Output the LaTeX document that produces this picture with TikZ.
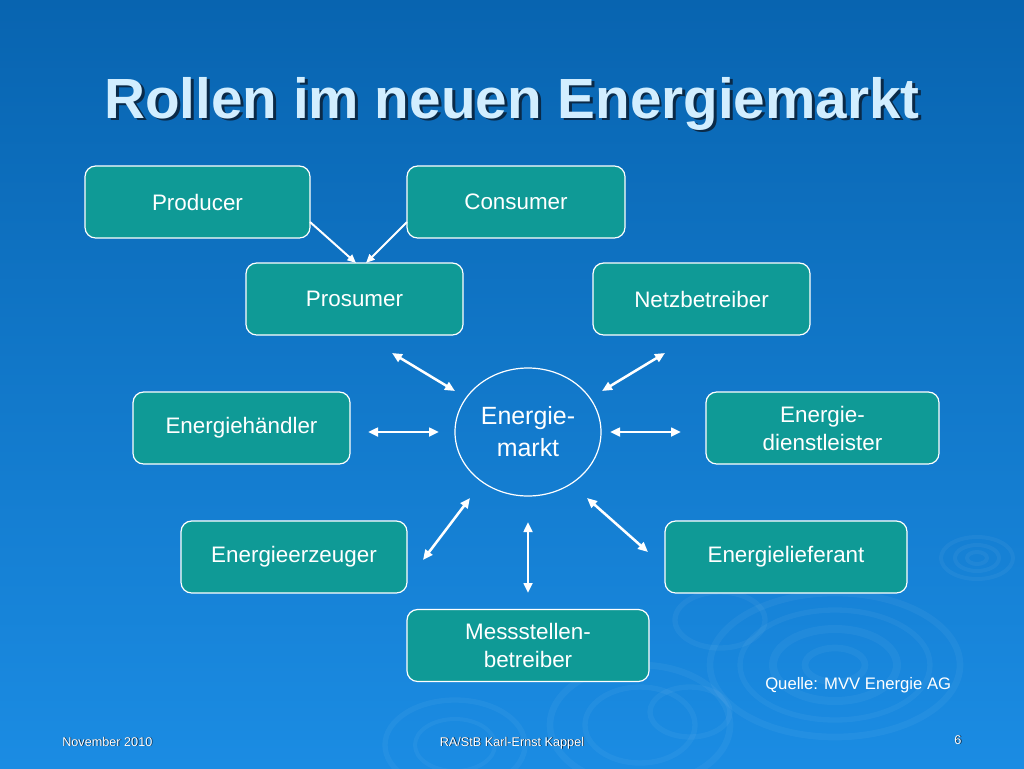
\documentclass[tikz,border=0pt]{standalone}
\usepackage{fontspec}
\setmainfont{Liberation Sans}
\usetikzlibrary{arrows.meta,shapes.geometric}
\definecolor{bgtop}{HTML}{0864B0}
\definecolor{bgbot}{HTML}{1B8CE3}
\definecolor{boxfill}{HTML}{0F9A96}
\definecolor{titlecol}{HTML}{D2EEFF}
\definecolor{shadowcol}{HTML}{0A2A48}
\newcommand{\shadowtext}[3]{\makebox[0pt][l]{\kern#1\raisebox{-#1}{\textcolor{shadowcol}{#3}}}\textcolor{#2}{#3}}
\begin{document}
\begin{tikzpicture}[x=0.75pt,y=-0.75pt,
  rolebox/.style={draw=white, line width=0.9pt, fill=boxfill, rounded corners=8pt,
    text=white, font=\fontsize{16.8}{21}\selectfont, align=center, inner sep=0pt,
    minimum height=54pt},
  marketnode/.style={ellipse, draw=white, line width=0.9pt, text=white,
    font=\fontsize{18.7}{24}\selectfont, align=center, inner sep=0pt,
    minimum width=109.5pt, minimum height=96pt},
  dblarrow/.style={white, line width=1.9pt,
    {Triangle[length=7.5pt,width=6.5pt]}-{Triangle[length=7.5pt,width=6.5pt]}},
  onearrow/.style={white, line width=1.5pt, -{Triangle[length=6.5pt,width=5.5pt]}},
  ring/.style={white, opacity=0.045},
  foot/.style={font=\fontsize{9.5}{11}\selectfont, inner sep=0pt}
]
% background
\shade[top color=bgtop, bottom color=bgbot] (0,0) rectangle (1024,768);
\useasboundingbox (0,0) rectangle (1024,768);

% decorative rings
\begin{scope}
\draw[ring, line width=5pt] (835,665) ellipse [x radius=125, y radius=72];
\draw[ring, line width=4pt] (835,665) ellipse [x radius=95, y radius=55];
\draw[ring, line width=6pt] (835,665) ellipse [x radius=62, y radius=36];
\draw[ring, line width=5pt] (835,665) ellipse [x radius=30, y radius=17];
\draw[ring, line width=3pt] (977,558) ellipse [x radius=36, y radius=21];
\draw[ring, line width=3pt] (977,558) ellipse [x radius=22, y radius=13];
\draw[ring, line width=3pt] (977,558) ellipse [x radius=10, y radius=6];
\draw[ring, line width=5pt] (640,725) ellipse [x radius=90, y radius=60];
\draw[ring, line width=4pt] (640,725) ellipse [x radius=55, y radius=38];
\draw[ring, line width=4pt] (690,712) ellipse [x radius=40, y radius=25];
\draw[ring, line width=4pt] (455,745) ellipse [x radius=70, y radius=45];
\draw[ring, line width=3pt] (455,745) ellipse [x radius=40, y radius=26];
\draw[ring, line width=4pt] (720,620) ellipse [x radius=45, y radius=28];
\end{scope}

% title
\node[anchor=base, inner sep=0pt, font=\fontsize{42.5}{50}\selectfont\bfseries]
  (title) at (512,118) {\shadowtext{2.2pt}{titlecol}{Rollen im neuen Energiemarkt}};

% role boxes
\node[rolebox, minimum width=168.75pt] (prod) at (197.5,202) {Producer};
\node[rolebox, minimum width=163.5pt] (cons) at (516,202) {Consumer};
\node[rolebox, minimum width=162.75pt] (pros) at (354.5,299) {Prosumer};
\node[rolebox, minimum width=162.75pt] (netz) at (701.5,299) {Netzbetreiber};
\node[rolebox, minimum width=162.75pt] (hand) at (241.5,428) {Energiehändler};
\node[rolebox, minimum width=174.75pt] (dien) at (822.5,428) {Energie-\\dienstleister};
\node[rolebox, minimum width=169.5pt] (erz) at (294,557) {Energieerzeuger};
\node[rolebox, minimum width=181.5pt] (lief) at (786,557) {Energielieferant};
\node[rolebox, minimum width=181.5pt] (mess) at (528,645.5) {Messstellen-\\betreiber};

% market
\node[marketnode] (markt) at (528,432) {Energie-\\markt};

% Producer / Consumer -> Prosumer
\coordinate (prodA) at (310,222);
\coordinate (prosA) at (356,263);
\coordinate (consA) at (407,222);
\coordinate (prosB) at (366,263);
\draw[onearrow] (prodA) -- (prosA);
\draw[onearrow] (consA) -- (prosB);

% market arrows
\coordinate (a1s) at (392,353); \coordinate (a1e) at (455,391);
\coordinate (a2s) at (665,353); \coordinate (a2e) at (602,391);
\coordinate (a3s) at (368,432); \coordinate (a3e) at (439,432);
\coordinate (a4s) at (610,432); \coordinate (a4e) at (681,432);
\coordinate (a5s) at (470,498); \coordinate (a5e) at (423,560);
\coordinate (a6s) at (528,522); \coordinate (a6e) at (528,593);
\coordinate (a7s) at (587,498); \coordinate (a7e) at (648,552);
\draw[dblarrow] (a1s) -- (a1e);
\draw[dblarrow] (a2s) -- (a2e);
\draw[dblarrow] (a3s) -- (a3e);
\draw[dblarrow] (a4s) -- (a4e);
\draw[dblarrow] (a5s) -- (a5e);
\draw[dblarrow] (a6s) -- (a6e);
\draw[dblarrow] (a7s) -- (a7e);

% source
\node[anchor=base west, inner sep=0pt, text=white, font=\fontsize{12.5}{15}\selectfont] (quelle) at (765,689) {Quelle: MVV Energie AG};

% footer
\node[anchor=base west, foot] (date) at (62,746) {\shadowtext{0.6pt}{white}{November 2010}};
\node[anchor=base, foot] (auth) at (512,746) {\shadowtext{0.6pt}{white}{RA/StB Karl-Ernst Kappel}};
\node[anchor=base, foot] (page) at (958,744) {\shadowtext{0.6pt}{white}{6}};
\end{tikzpicture}
\end{document}
